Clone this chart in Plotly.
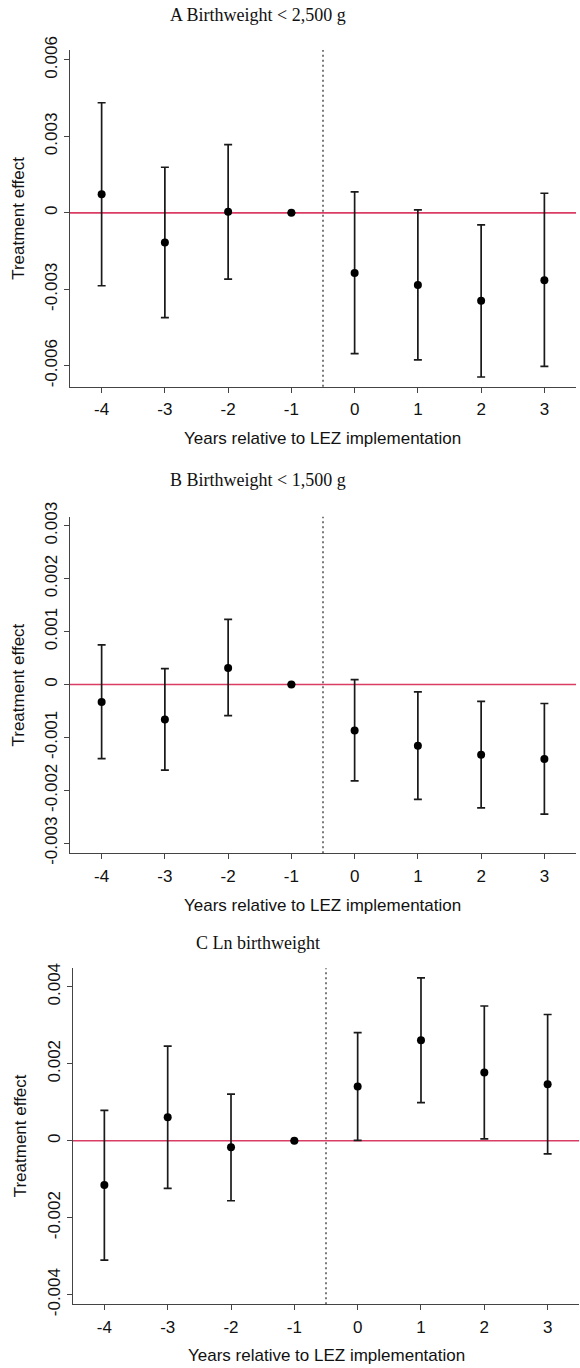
import plotly.graph_objects as go

# Event-study estimates: years relative to LEZ implementation
years = [-4, -3, -2, -1, 0, 1, 2, 3]

# Panel A: Birthweight < 2,500 g
a_est = [0.00073, -0.00116, 0.00004, 0.0, -0.00236, -0.00283, -0.00345, -0.00264]
a_hi = [0.00432, 0.00179, 0.00268, 0.0, 0.00082, 0.00012, -0.00047, 0.00077]
a_lo = [-0.00286, -0.00411, -0.00260, 0.0, -0.00552, -0.00577, -0.00644, -0.00602]

# Panel B: Birthweight < 1,500 g
b_est = [-0.00033, -0.00066, 0.00031, 0.0, -0.00087, -0.00116, -0.00133, -0.00141]
b_hi = [0.00075, 0.00030, 0.00123, 0.0, 0.00009, -0.00014, -0.00032, -0.00036]
b_lo = [-0.00140, -0.00162, -0.00059, 0.0, -0.00182, -0.00217, -0.00233, -0.00245]

# Panel C: Ln birthweight
c_est = [-0.00115, 0.00061, -0.00017, 0.0, 0.00141, 0.00261, 0.00177, 0.00147]
c_hi = [0.00079, 0.00246, 0.00121, 0.0, 0.00281, 0.00423, 0.00350, 0.00328]
c_lo = [-0.00310, -0.00124, -0.00156, 0.0, 0.00001, 0.00099, 0.00005, -0.00034]

titles = ["A Birthweight < 2,500 g", "B Birthweight < 1,500 g", "C Ln birthweight"]
x_title = "Years relative to LEZ implementation"
y_title = "Treatment effect"
y_ticks = [
    [-0.006, -0.003, 0, 0.003, 0.006],
    [-0.003, -0.002, -0.001, 0, 0.001, 0.002, 0.003],
    [-0.004, -0.002, 0, 0.002, 0.004],
]
y_ticktext = [
    ["-0.006", "-0.003", "0", "0.003", "0.006"],
    ["-0.003", "-0.002", "-0.001", "0", "0.001", "0.002", "0.003"],
    ["-0.004", "-0.002", "0", "0.002", "0.004"],
]
y_ranges = [[-0.00682, 0.00639], [-0.00319, 0.00317], [-0.00425, 0.00448]]

W, H = 580, 1368
# plot-area boxes in pixels: (left, right, top, bottom)
boxes = [(70, 576, 50, 386.7), (70, 576, 516.7, 853.3), (72.7, 579.3, 968.3, 1304.3)]
title_y = [15, 480, 943]
xtitle_y = [438, 905, 1355]
ytitle_x = [18.5, 17.5, 20]

panels = [(a_est, a_hi, a_lo), (b_est, b_hi, b_lo), (c_est, c_hi, c_lo)]

fig = go.Figure()
layout = dict(
    width=W, height=H,
    margin=dict(l=0, r=0, t=0, b=0, autoexpand=False),
    paper_bgcolor="white", plot_bgcolor="white",
    showlegend=False,
    font=dict(family="Liberation Sans, Arial, sans-serif", color="#111"),
    shapes=[], annotations=[],
)

AX = "#444"
SANS = "Liberation Sans, Arial, sans-serif"
for i, ((est, hi, lo), box) in enumerate(zip(panels, boxes)):
    n = i + 1
    xa = "x" if n == 1 else f"x{n}"
    ya = "y" if n == 1 else f"y{n}"
    left, right, top, bottom = box
    xdom = [left / W, right / W]
    ydom = [1 - bottom / H, 1 - top / H]

    arr_plus = [h - e for h, e in zip(hi, est)]
    arr_minus = [e - l for e, l in zip(est, lo)]

    # zero reference line
    fig.add_trace(go.Scatter(
        x=[-4.5, 3.5], y=[0, 0], mode="lines",
        line=dict(color="#da3d64", width=1.6),
        xaxis=xa, yaxis=ya, hoverinfo="skip",
    ))
    fig.add_trace(go.Scatter(
        x=years, y=est, mode="markers",
        marker=dict(color="black", size=8),
        error_y=dict(type="data", symmetric=False, array=arr_plus,
                     arrayminus=arr_minus, color="#1a1a1a",
                     thickness=1.7, width=4),
        xaxis=xa, yaxis=ya,
    ))

    layout[f"xaxis{'' if n == 1 else n}"] = dict(
        domain=xdom, anchor=ya, range=[-4.5, 3.5], automargin=False,
        tickvals=years, ticktext=[str(v) for v in years],
        ticks="outside", ticklen=5, tickcolor=AX, tickwidth=1,
        ticklabelstandoff=2,
        showline=True, linecolor=AX, linewidth=1.3,
        showgrid=False, zeroline=False,
        tickfont=dict(size=17, color="#111"),
    )
    layout[f"yaxis{'' if n == 1 else n}"] = dict(
        domain=ydom, anchor=xa, range=y_ranges[i], automargin=False,
        tickvals=y_ticks[i], ticktext=y_ticktext[i], tickangle=-90,
        ticks="outside", ticklen=5, tickcolor=AX, tickwidth=1,
        showline=True, linecolor=AX, linewidth=1.3,
        showgrid=False, zeroline=False,
        tickfont=dict(size=17, color="#111"),
    )
    # implementation marker at -0.5
    layout["shapes"].append(dict(
        type="line", xref=xa, yref=f"{ya} domain", x0=-0.5, x1=-0.5,
        y0=0, y1=1, line=dict(color="#222", width=1.2, dash="2px,3px"),
    ))
    layout["annotations"].append(dict(
        text=titles[i], xref="paper", yref="paper",
        x=258 / W, y=1 - title_y[i] / H, xanchor="center", yanchor="middle",
        showarrow=False,
        font=dict(family="Liberation Serif, Times New Roman, serif", size=18,
                  color="#111"),
    ))
    layout["annotations"].append(dict(
        text=x_title, xref="paper", yref="paper",
        x=(left + right) / 2 / W, y=1 - xtitle_y[i] / H,
        xanchor="center", yanchor="middle", showarrow=False,
        font=dict(family=SANS, size=17, color="#111"),
    ))
    layout["annotations"].append(dict(
        text=y_title, xref="paper", yref="paper", textangle=-90,
        x=ytitle_x[i] / W, y=1 - (top + bottom) / 2 / H,
        xanchor="center", yanchor="middle", showarrow=False,
        font=dict(family=SANS, size=17, color="#111"),
    ))

fig.update_layout(**layout)
fig.write_html("out.html")
